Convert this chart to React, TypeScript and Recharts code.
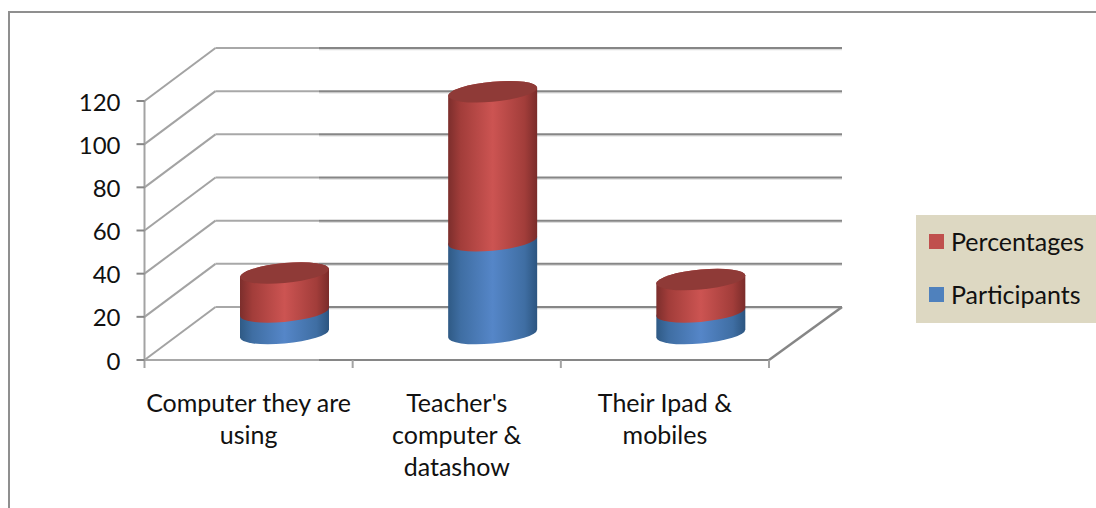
import React from 'react';
import { BarChart, Bar, XAxis, YAxis, CartesianGrid, Legend } from 'recharts';

const categories = ['Computer they are\nusing', "Teacher's\ncomputer &\ndatashow", 'Their Ipad &\nmobiles'];
const participants = [10, 43, 10];
const percentages = [18, 69, 15];
const yTicks = [0, 20, 40, 60, 80, 100, 120];

const data = categories.map((name, i) => ({
  name,
  Participants: participants[i],
  Percentages: percentages[i],
}));

const FONT = 'Lato, sans-serif';
const AXIS = '#868686';
// how far the back wall sits behind the front plane
const DEPTH_X = 71;
const DEPTH_Y = -53;
const SPLIT_X = 319; // the source image gets darker from here on

function GridLine3D(props: any) {
  const { x1, y1, x2, y, height, index } = props;
  const bx = x1 + DEPTH_X;
  const by = y1 + DEPTH_Y;
  const backRight = x2 + DEPTH_X + 2;
  const isFloor = Math.abs(y1 - (y + height)) < 1;
  const step = (x2 - x1) / categories.length;
  return (
    <g key={index}>
      <line x1={x1} y1={y1} x2={bx} y2={by} stroke="#a3a3a3" strokeWidth={2} />
      <line x1={bx} y1={by} x2={SPLIT_X} y2={by} stroke="#a8a8a8" strokeWidth={2} />
      <line x1={SPLIT_X} y1={by + 1.5} x2={backRight} y2={by + 1.5} stroke="#dcdcdc" strokeWidth={1.5} />
      <line x1={SPLIT_X} y1={by} x2={backRight} y2={by} stroke={AXIS} strokeWidth={2} />
      {isFloor && (
        <g>
          <line x1={x2} y1={y1} x2={backRight} y2={by} stroke={AXIS} strokeWidth={2.5} />
          <line x1={x1} y1={y1} x2={SPLIT_X} y2={y1} stroke="#a8a8a8" strokeWidth={2} />
          <line x1={SPLIT_X} y1={y1} x2={x2} y2={y1} stroke={AXIS} strokeWidth={2} />
          {[0, 1, 2, 3].map((i) => (
            <line key={i} x1={x1 + i * step} y1={y1} x2={x1 + i * step} y2={y1 + 8} stroke="#a3a3a3" strokeWidth={2} />
          ))}
        </g>
      )}
    </g>
  );
}

function Cylinder(props: any) {
  const { x, y, width, height, gradient, cap } = props;
  const a = width / 2;
  const b = 10;
  const cx = x + a + DEPTH_X / 2;
  const top = y + DEPTH_Y / 2;
  const bottom = y + height + DEPTH_Y / 2;
  const k = -4 / a;
  const body = `M${cx - a} ${top} A${a} ${b} 0 0 1 ${cx + a} ${top} L${cx + a} ${bottom} A${a} ${b} 0 0 1 ${cx - a} ${bottom} Z`;
  return (
    <g transform={`matrix(1 ${k} 0 1 0 ${-k * cx})`}>
      <path d={body} fill={`url(#${gradient})`} />
      {cap && <ellipse cx={cx} cy={top} rx={a} ry={b} fill={cap} />}
    </g>
  );
}

function CategoryTick({ x, y, payload }: any) {
  const lines = String(payload.value).split('\n');
  return (
    <text x={x} y={y} textAnchor="middle" fontFamily={FONT} fontSize={25} fill="#111">
      {lines.map((line: string, i: number) => (
        <tspan key={i} x={x} y={y + 42 + i * 32}>{line}</tspan>
      ))}
    </text>
  );
}

function LegendBox({ payload }: any) {
  const items = [...(payload || [])].reverse();
  return (
    <div style={{ background: '#DDD8C2', width: 180, height: 108, position: 'relative' }}>
      {items.map((item: any, i: number) => (
        <div key={item.value} style={{ position: 'absolute', left: 13, top: 10 + i * 53, display: 'flex', alignItems: 'center', height: 32 }}>
          <span style={{ width: 15, height: 15, background: item.color, marginRight: 7 }} />
          <span style={{ fontFamily: FONT, fontSize: 25, color: '#111' }}>{item.value}</span>
        </div>
      ))}
    </div>
  );
}

export default function App() {
  return (
    <div style={{ position: 'absolute', left: 0, top: 0, width: 1096, height: 508, background: '#fff', overflow: 'hidden' }}>
      <div style={{ position: 'absolute', left: 8, top: 11, right: 0, bottom: 0, borderLeft: '2px solid #8f8f8f', borderTop: '2px solid #8f8f8f' }} />
      <BarChart
        width={1096}
        height={508}
        data={data}
        margin={{ top: 101, right: 147, bottom: 0, left: 0 }}
        barSize={89}
        style={{ position: 'absolute', left: 0, top: 0 }}
      >
        <defs>
          <linearGradient id="blueBody" x1="0" y1="0" x2="1" y2="0">
            <stop offset="0" stopColor="#2f5a85" />
            <stop offset="0.14" stopColor="#3f6ea3" />
            <stop offset="0.5" stopColor="#5586c8" />
            <stop offset="0.86" stopColor="#3f6ea3" />
            <stop offset="1" stopColor="#2c5580" />
          </linearGradient>
          <linearGradient id="redBody" x1="0" y1="0" x2="1" y2="0">
            <stop offset="0" stopColor="#7c2e2c" />
            <stop offset="0.14" stopColor="#a23d3a" />
            <stop offset="0.5" stopColor="#cc5452" />
            <stop offset="0.86" stopColor="#a23d3a" />
            <stop offset="1" stopColor="#7a2c2a" />
          </linearGradient>
        </defs>
        <CartesianGrid vertical={false} horizontal={GridLine3D as any} />
        <XAxis
          dataKey="name"
          height={148}
          axisLine={false}
          tickSize={8}
          tickLine={false}
          interval={0}
          tick={<CategoryTick />}
          ticks={categories}
        />
        <YAxis
          domain={[0, 120]}
          ticks={yTicks}
          width={144.5}
          tickSize={8}
          tickMargin={16}
          axisLine={{ stroke: '#a3a3a3', strokeWidth: 2 }}
          tickLine={{ stroke: AXIS, strokeWidth: 2 }}
          tick={{ fontFamily: FONT, fontSize: 24, fill: '#111', dy: 1 }}
        />
        <Legend
          layout="vertical"
          align="right"
          verticalAlign="top"
          content={<LegendBox />}
          wrapperStyle={{ left: 916, top: 215, width: 180, height: 108 }}
        />
        <Bar dataKey="Participants" stackId="a" fill="#4F81BD" isAnimationActive={false} shape={(p: any) => <Cylinder {...p} gradient="blueBody" />} />
        <Bar dataKey="Percentages" stackId="a" fill="#C0504D" isAnimationActive={false} shape={(p: any) => <Cylinder {...p} gradient="redBody" cap="#8f3a37" />} />
      </BarChart>
    </div>
  );
}
